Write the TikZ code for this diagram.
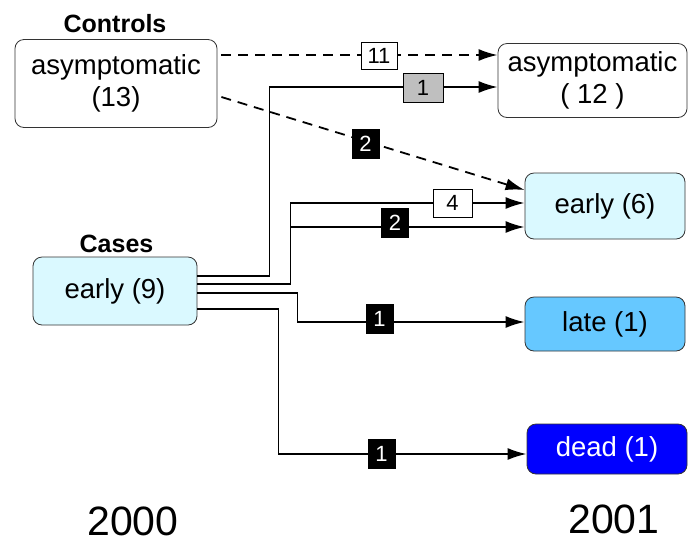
\documentclass[tikz,border=0pt]{standalone}
\usepackage{fontspec}
\setmainfont{Liberation Sans}
\usetikzlibrary{arrows.meta}
\definecolor{lcyan}{HTML}{DAF9FF}
\definecolor{lblue}{HTML}{66C8FF}
\definecolor{dblue}{HTML}{0000FF}
\begin{document}
\begin{tikzpicture}[x=1pt,y=-1pt,
 state/.style={draw=black!80, line width=0.8pt, rounded corners=9pt, align=center, inner sep=0pt, font=\fontsize{27.5}{32}\selectfont},
 flow/.style={line width=1.8pt, -{Latex[length=19pt,width=12pt]}},
 dflow/.style={flow, dash pattern=on 10pt off 7pt},
 lab/.style={draw=black, line width=0.8pt, inner sep=0pt, font=\fontsize{22}{22}\selectfont},
 wlab/.style={lab, fill=white},
 glab/.style={lab, fill=black!25},
 blab/.style={lab, fill=black, text=white, minimum width=27pt, minimum height=29pt},
 head/.style={font=\bfseries\fontsize{25}{25}\selectfont, anchor=base, inner sep=0pt},
 year/.style={font=\fontsize{41}{41}\selectfont, anchor=base, inner sep=0pt}]
\useasboundingbox (0,0) rectangle (688,542);

\node[state, minimum width=202pt, minimum height=88pt] (c13) at (116,83.5) {asymptomatic\\(13)};
\node[state, minimum width=189pt, minimum height=74pt] (c12) at (592.5,80.5) {asymptomatic\\( 12 )};
\node[state, fill=lcyan, minimum width=164pt, minimum height=68pt] (e9) at (115,291) {early (9)};
\node[state, fill=lcyan, minimum width=160pt, minimum height=66pt] (e6) at (605,206) {early (6)};
\node[state, fill=lblue, minimum width=160pt, minimum height=54pt] (late) at (605,324) {late (1)};
\node[state, fill=dblue, text=white, minimum width=160pt, minimum height=50pt] (dead) at (607,449) {dead (1)};
\node[head] (hc) at (115,32) {Controls};
\node[head] (hk) at (116.5,252) {Cases};
\node[year] (y0) at (133,535) {2000};
\node[year] (y1) at (614,533) {2001};

% connectors
\draw[dflow] ([xshift=4pt,yshift=28.5pt]c13.east) -- ([yshift=25.5pt]c12.west);
\draw[dflow] ([xshift=4pt,yshift=-13.5pt]c13.east) -- ([yshift=16pt]e6.west);
\draw[flow] ([yshift=15pt]e9.east) -- ++(72,0) |- ([yshift=-6.5pt]c12.west);
\draw[flow] ([yshift=7pt]e9.east) -- ++(93,0) |- ([yshift=3pt]e6.west);
\draw[flow] ([yshift=7pt]e9.east) -- ++(93,0) |- ([yshift=-21pt]e6.west);
\draw[flow] ([yshift=-2pt]e9.east) -- ++(100,0) |- ([yshift=2pt]late.west);
\draw[flow] ([yshift=-18pt]e9.east) -- ++(81,0) |- ([yshift=-5pt]dead.west);

% labels
\node[wlab, minimum width=36pt, minimum height=27pt] (l11) at (379,55.5) {11};
\node[glab, minimum width=40pt, minimum height=29pt] (lg1) at (423,87.5) {1};
\node[blab] (lb2a) at (365.5,144) {2};
\node[wlab, minimum width=39pt, minimum height=28pt] (l4) at (452.5,203) {4};
\node[blab] (lb2b) at (395,222.5) {2};
\node[blab] (lb1a) at (379.5,318.5) {1};
\node[blab] (lb1b) at (381.5,453.5) {1};
\end{tikzpicture}
\end{document}
